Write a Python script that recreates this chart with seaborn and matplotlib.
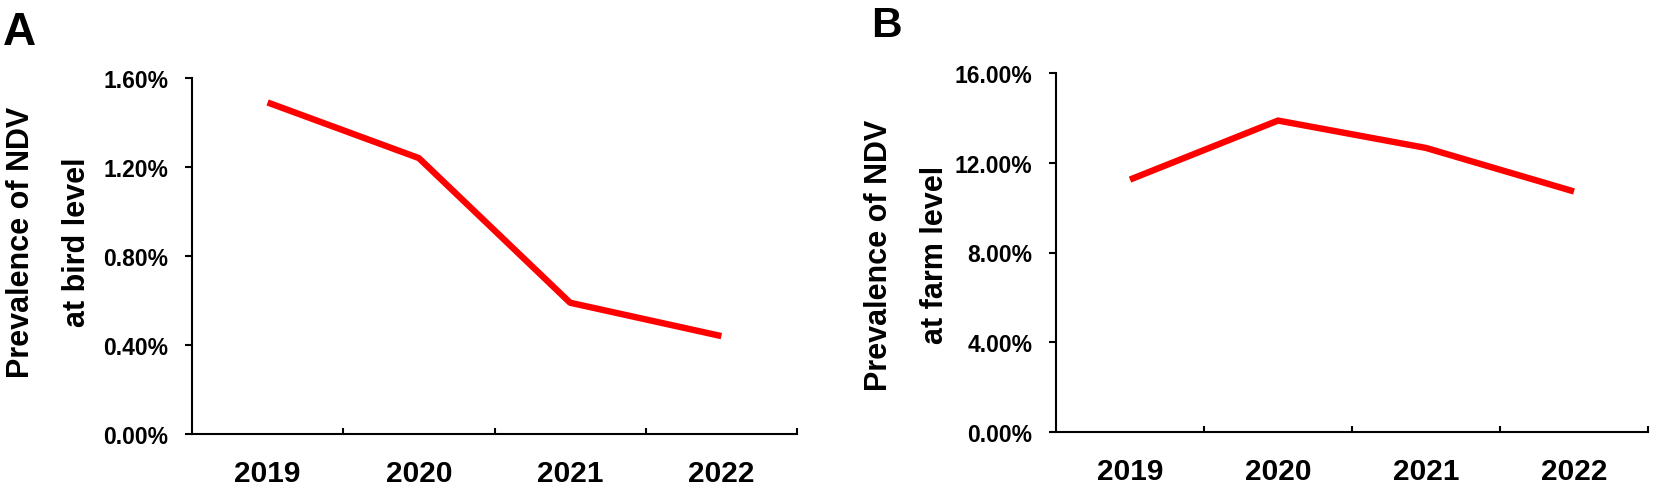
import matplotlib
matplotlib.use("Agg")
import matplotlib.pyplot as plt
import matplotlib.ticker as mticker
import seaborn as sns
import pandas as pd

years = ["2019", "2020", "2021", "2022"]
bird_prev = [1.49, 1.24, 0.59, 0.44]      # % prevalence at bird level
farm_prev = [11.25, 13.88, 12.66, 10.72]  # % prevalence at farm level

bird_ticks = [0.0, 0.4, 0.8, 1.2, 1.6]
farm_ticks = [0.0, 4.0, 8.0, 12.0, 16.0]

bird_label = "Prevalence of NDV\nat bird level"
farm_label = "Prevalence of NDV\nat farm level"

sns.set_style("ticks")
plt.rcParams["font.family"] = ["Liberation Sans", "DejaVu Sans"]
plt.rcParams["font.weight"] = "bold"

W, H = 1653, 489
fig = plt.figure(figsize=(W / 100, H / 100), dpi=100)

def px_axes(l, r, t, b):
    return [l / W, 1 - b / H, (r - l) / W, (b - t) / H]

axA = fig.add_axes(px_axes(192, 797, 79, 435))
axB = fig.add_axes(px_axes(1056, 1648, 74, 433))

dfA = pd.DataFrame({"year": years, "prev": bird_prev})
dfB = pd.DataFrame({"year": years, "prev": farm_prev})

panels = [
    (axA, dfA, bird_ticks, bird_label, (49, 242)),
    (axB, dfB, farm_ticks, farm_label, (907, 255)),
]

for ax, df, yt, lab, (lx, ly) in panels:
    sns.lineplot(data=df, x="year", y="prev", ax=ax, color="#ff0000",
                 linewidth=4.6, solid_capstyle="butt")
    ax.set_xlim(-0.5, 3.5)
    ax.set_ylim(yt[0], yt[-1])
    ax.set_yticks(yt)
    ax.yaxis.set_major_formatter(mticker.FuncFormatter(lambda v, p: f"{v:.2f}%"))
    ax.set_xticks(range(len(years)))
    ax.set_xticklabels(years)
    ax.xaxis.set_minor_locator(mticker.FixedLocator([0.5, 1.5, 2.5, 3.5]))
    ax.tick_params(axis="x", which="major", length=0, pad=18, labelsize=21.5)
    ax.tick_params(axis="x", which="minor", direction="in", length=4.5,
                   width=1.5, color="black")
    ax.tick_params(axis="y", which="major", direction="out", length=5,
                   width=1.5, pad=12, labelsize=16.5, color="black")
    for lbl in ax.get_xticklabels() + ax.get_yticklabels():
        lbl.set_fontweight("bold")
        lbl.set_color("black")
    for s in ["top", "right"]:
        ax.spines[s].set_visible(False)
    for s in ["left", "bottom"]:
        ax.spines[s].set_linewidth(1.5)
        ax.spines[s].set_color("black")
    ax.set_xlabel("")
    ax.set_ylabel(lab, fontsize=22, fontweight="bold", linespacing=2.15,
                  va="center", ha="center", color="black")
    ax.yaxis.set_label_coords(lx / W, 1 - ly / H, transform=fig.transFigure)

fig.text(3 / W, 1 - 45 / H, "A", fontsize=33, fontweight="bold",
         ha="left", va="baseline", color="black")
fig.text(871 / W, 1 - 37 / H, "B", fontsize=30.5, fontweight="bold",
         ha="left", va="baseline", color="black")

fig.savefig("out.png", dpi=100, facecolor="white")
